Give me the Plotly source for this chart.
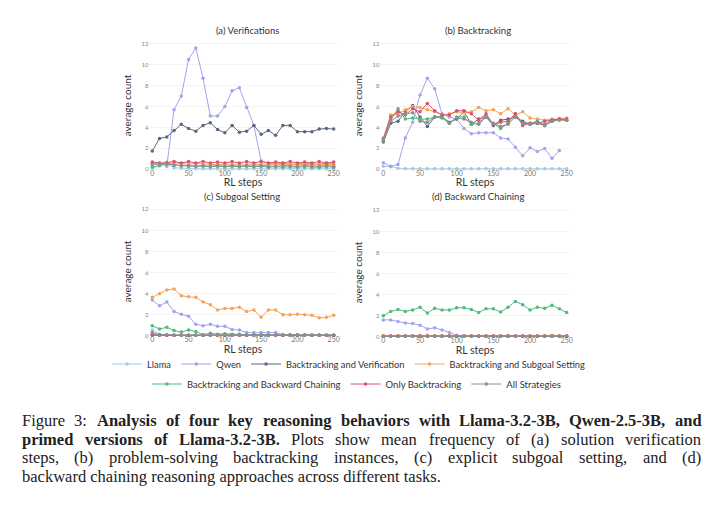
import plotly.graph_objects as go

# ---------------- data ----------------
steps = [0, 10, 20, 30, 40, 50, 60, 70, 80, 90, 100, 110, 120, 130, 140, 150,
         160, 170, 180, 190, 200, 210, 220, 230, 240, 250]

series_names = ["Llama", "Qwen", "Backtracking and Verification",
                "Backtracking and Subgoal Setting", "Backtracking and Backward Chaining",
                "Only Backtracking", "All Strategies"]

# (a) Verifications
llama_a = [0.15, 0.3, 0.5, 0.15, 0.1, 0.1, 0.05, 0.05, 0.05, 0.05, 0.05, 0.05, 0.05,
           0.05, 0.05, 0.05, 0.05, 0.05, 0.05, 0.05, 0.05, 0.05, 0.05, 0.05, 0.05, 0.05]
qwen_a = [0.5, 0.6, 0.3, 5.7, 7.0, 10.5, 11.6, 8.7, 5.1, 5.1, 6.0, 7.5, 7.8, 5.9, 4.2,
          0.8, 0.6, 0.5, 0.6, 0.5, 0.5, 0.6, 0.5, 0.5, 0.6, 0.5]
btv_a = [1.75, 2.95, 3.1, 3.7, 4.3, 3.9, 3.65, 4.2, 4.45, 3.8, 3.5, 4.2, 3.55, 3.65, 4.2,
         3.35, 3.7, 3.25, 4.2, 4.2, 3.6, 3.6, 3.6, 3.85, 3.9, 3.85]
bts_a = [0.5, 0.5, 0.55, 0.6, 0.55, 0.5, 0.55, 0.5, 0.5, 0.45, 0.5, 0.5, 0.45, 0.5, 0.45,
         0.5, 0.45, 0.5, 0.45, 0.5, 0.45, 0.5, 0.45, 0.45, 0.5, 0.45]
bbc_a = [0.2, 0.4, 0.6, 0.4, 0.35, 0.3, 0.3, 0.3, 0.25, 0.3, 0.25, 0.3, 0.25, 0.3, 0.25,
         0.3, 0.2, 0.25, 0.2, 0.25, 0.2, 0.25, 0.2, 0.2, 0.25, 0.2]
ob_a = [0.7, 0.6, 0.65, 0.75, 0.6, 0.75, 0.6, 0.75, 0.6, 0.7, 0.6, 0.75, 0.6, 0.75, 0.6,
        0.75, 0.6, 0.7, 0.6, 0.75, 0.6, 0.7, 0.6, 0.75, 0.6, 0.7]
as_a = [0.45, 0.55, 0.5, 0.4, 0.35, 0.35, 0.3, 0.35, 0.3, 0.35, 0.3, 0.35, 0.3, 0.35, 0.3,
        0.35, 0.3, 0.3, 0.35, 0.3, 0.3, 0.35, 0.3, 0.3, 0.35, 0.3]

# (b) Backtracking
llama_b = [0.3, 0.25, 0.1, 0.05, 0.05, 0.05, 0.05, 0.05, 0.05, 0.05, 0.05, 0.05, 0.05,
           0.05, 0.05, 0.05, 0.05, 0.05, 0.05, 0.05, 0.05, 0.05, 0.05, 0.05, 0.05, 0.05]
qwen_b = [0.63, 0.3, 0.45, 3.0, 4.5, 7.1, 8.7, 7.7, 5.3, 5.0, 4.8, 3.9, 3.4, 3.5, 3.5,
          3.5, 3.0, 2.9, 2.1, 1.3, 2.05, 1.7, 2.0, 1.05, 1.8, None]
btv_b = [2.6, 4.4, 4.6, 5.5, 6.1, 5.0, 4.1, 5.0, 5.0, 4.5, 4.8, 5.5, 4.3, 4.8, 5.0, 4.2,
         4.7, 4.8, 5.0, 4.6, 4.3, 4.4, 4.2, 4.6, 4.8, 4.7]
bts_b = [3.0, 5.2, 5.3, 5.7, 6.0, 5.9, 5.7, 5.5, 5.2, 5.3, 5.5, 5.4, 5.5, 5.9, 5.6, 5.7,
         5.3, 5.8, 5.2, 5.5, 4.9, 4.8, 4.7, 4.8, 4.8, 4.9]
bbc_b = [2.7, 4.7, 5.8, 4.8, 4.9, 4.8, 4.8, 5.0, 5.1, 4.4, 5.0, 5.0, 4.3, 4.4, 5.1, 4.4,
         3.9, 4.4, 5.3, 4.4, 4.4, 4.6, 4.3, 4.7, 4.8, 4.7]
ob_b = [2.9, 5.0, 5.5, 5.2, 5.8, 5.5, 6.3, 5.6, 5.2, 5.2, 5.6, 5.6, 5.3, 4.7, 5.3, 4.3,
        4.5, 4.6, 5.3, 4.2, 4.4, 4.4, 4.6, 4.7, 4.8, 4.8]
as_b = [2.8, 4.6, 5.1, 5.3, 5.4, 4.6, 4.5, 5.0, 4.9, 4.4, 4.9, 4.8, 4.5, 4.3, 5.0, 4.4,
        4.1, 4.3, 5.0, 4.4, 4.3, 4.5, 4.2, 4.6, 4.7, 4.7]

# (c) Subgoal Setting
llama_c = [0.55, 0.15, 0.05, 0.05, 0.05, 0.05, 0.05, 0.05, 0.05, 0.05, 0.05, 0.05, 0.05,
           0.05, 0.05, 0.05, 0.05, 0.05, 0.05, 0.05, 0.05, 0.05, 0.05, 0.05, 0.05, 0.05]
qwen_c = [3.4, 2.85, 3.2, 2.3, 2.05, 1.85, 1.1, 0.95, 1.1, 0.9, 0.9, 0.6, 0.55, 0.3, 0.3,
          0.3, 0.3, 0.3, 0.1, 0.1, 0.1, 0.1, 0.05, 0.05, 0.05, 0.05]
btv_c = [0.1, 0.05, 0.05, 0.05, 0.05, 0.05, 0.05, 0.05, 0.05, 0.05, 0.05, 0.05, 0.05,
         0.05, 0.05, 0.05, 0.05, 0.05, 0.05, 0.05, 0.05, 0.05, 0.05, 0.05, 0.05, 0.05]
bts_c = [3.65, 4.0, 4.35, 4.45, 3.8, 3.7, 3.65, 3.2, 2.95, 2.45, 2.6, 2.6, 2.7, 2.3, 2.45,
         1.75, 2.45, 2.45, 2.0, 2.0, 2.05, 2.0, 1.95, 1.7, 1.75, 1.95]
bbc_c = [0.95, 0.65, 0.8, 0.5, 0.35, 0.55, 0.4, 0.1, 0.25, 0.15, 0.2, 0.15, 0.15, 0.1,
         0.1, 0.1, 0.05, 0.05, 0.05, 0.05, 0.05, 0.05, 0.05, 0.05, 0.05, 0.05]
ob_c = [0.05, 0.05, 0.05, 0.05, 0.05, 0.05, 0.05, 0.05, 0.05, 0.05, 0.05, 0.05, 0.05,
        0.05, 0.05, 0.05, 0.05, 0.05, 0.05, 0.05, 0.05, 0.05, 0.05, 0.05, 0.05, 0.05]
as_c = [0.3, 0.1, 0.1, 0.05, 0.05, 0.05, 0.05, 0.05, 0.05, 0.05, 0.05, 0.05, 0.05,
        0.05, 0.05, 0.05, 0.05, 0.05, 0.1, 0.05, 0.1, 0.05, 0.05, 0.05, 0.05, 0.05]

# (d) Backward Chaining
llama_d = [0.05] * 26
qwen_d = [1.6, 1.6, 1.45, 1.3, 1.25, 1.1, 0.75, 0.85, 0.65, 0.4, 0.15, 0.1, 0.1, 0.05,
          0.05, 0.05, 0.05, 0.05, 0.05, 0.05, 0.05, 0.05, 0.05, 0.05, 0.05, 0.05]
btv_d = [0.05] * 26
bts_d = [0.1, 0.1, 0.1, 0.1, 0.1, 0.15, 0.15, 0.1, 0.1, 0.1, 0.1, 0.1, 0.1, 0.1, 0.1,
         0.1, 0.1, 0.15, 0.1, 0.1, 0.1, 0.1, 0.1, 0.15, 0.1, 0.1]
bbc_d = [2.0, 2.4, 2.6, 2.4, 2.55, 2.8, 2.25, 2.7, 2.55, 2.55, 2.75, 2.75, 2.6, 2.3, 2.65,
         2.65, 2.35, 2.8, 3.35, 3.05, 2.55, 2.8, 2.7, 3.0, 2.65, 2.3]
ob_d = [0.08] * 26
as_d = [0.05] * 26

panels = [
    ("(a) Verifications", [llama_a, qwen_a, btv_a, bts_a, bbc_a, ob_a, as_a]),
    ("(b) Backtracking", [llama_b, qwen_b, btv_b, bts_b, bbc_b, ob_b, as_b]),
    ("(c) Subgoal Setting", [llama_c, qwen_c, btv_c, bts_c, bbc_c, ob_c, as_c]),
    ("(d) Backward Chaining", [llama_d, qwen_d, btv_d, bts_d, bbc_d, ob_d, as_d]),
]

x_ticks = [0, 50, 100, 150, 200, 250]
y_ticks = [0, 2, 4, 6, 8, 10, 12]

# caption: (text, bold) segments per line
caption_lines = [
    [("Figure 3:", False),
     ("Analysis of four key reasoning behaviors with Llama-3.2-3B, Qwen-2.5-3B, and", True)],
    [("primed versions of Llama-3.2-3B.", True),
     ("Plots show mean frequency of (a) solution verification", False)],
    [("steps, (b) problem-solving backtracking instances, (c) explicit subgoal setting, and (d)", False)],
    [("backward chaining reasoning approaches across different tasks.", False)],
]

# ---------------- style ----------------
colors = ["#9ecbe6", "#a3a3ee", "#5c6782", "#f4a35a", "#4dbb7c", "#e0506c", "#8e8e8e"]
W, H = 720, 511
FONT = "Lato"
SERIF = "Liberation Serif"

x_domains = [(150.0, 338.0), (382.0, 572.0), (150.0, 338.0), (382.0, 572.0)]
y_domains = [(37.5, 173.5), (37.5, 173.5), (203.0, 340.0), (204.0, 341.0)]
title_pos = [(249, 30), (480, 30), (243, 196), (480, 196)]

# Times-compatible advance widths (1/1000 em) used to justify the caption lines
REG = dict(zip("abcdefghijklmnopqrstuvwxyz",
               [444, 500, 444, 500, 444, 333, 500, 500, 278, 278, 500, 278, 778, 500, 500,
                500, 500, 333, 389, 278, 500, 500, 722, 500, 500, 444]))
REG.update({"F": 556, "P": 556, "L": 611, "Q": 722, "B": 667, "A": 722,
            ",": 250, ".": 250, ":": 278, "-": 333, "(": 333, ")": 333})
BOLD = dict(zip("abcdefghijklmnopqrstuvwxyz",
                [500, 556, 444, 556, 444, 333, 500, 556, 278, 333, 556, 278, 833, 556, 500,
                 556, 556, 444, 389, 333, 556, 500, 722, 500, 500, 444]))
BOLD.update({"F": 611, "P": 611, "L": 667, "Q": 778, "B": 667, "A": 722,
             ",": 250, ".": 250, ":": 333, "-": 333, "(": 333, ")": 333})


def word_width(word, bold, size):
    table = BOLD if bold else REG
    return sum(table.get(ch, 500) for ch in word) * size / 1000.0


fig = go.Figure()

for i, (title, data) in enumerate(panels):
    ax = "" if i == 0 else str(i + 1)
    for j, (name, vals) in enumerate(zip(series_names, data)):
        fig.add_trace(go.Scatter(
            x=steps, y=vals, name=name, mode="lines+markers",
            line=dict(color=colors[j], width=1),
            marker=dict(color=colors[j], size=3.5),
            xaxis="x" + ax, yaxis="y" + ax,
            showlegend=(i == 0),
            legend="legend" if j < 4 else "legend2",
            connectgaps=False, cliponaxis=False,
        ))
    x0, x1 = x_domains[i]
    yt, yb = y_domains[i]
    fig.layout["xaxis" + ax] = dict(
        domain=[x0 / W, x1 / W], anchor="y" + ax, range=[-4, 254],
        tickvals=x_ticks, tickfont=dict(size=7, color="#777", family=FONT),
        ticklabelstandoff=-6,
        showgrid=False, zeroline=False, showline=False, ticks="",
        title=dict(text="RL steps", font=dict(size=10.5, color="#333", family=FONT), standoff=1),
    )
    fig.layout["yaxis" + ax] = dict(
        domain=[1 - yb / H, 1 - yt / H], anchor="x" + ax, range=[-0.4, 12.6],
        tickvals=y_ticks, tickfont=dict(size=6, color="#888", family=FONT),
        showgrid=True, gridcolor="#f4f4f4", gridwidth=1, zeroline=False, showline=False,
        ticks="",
        title=dict(text="average count", font=dict(size=10, color="#333", family=FONT), standoff=7),
    )
    tx, ty = title_pos[i]
    fig.add_annotation(text=title, x=tx / W, y=1 - ty / H, xref="paper", yref="paper",
                       xanchor="center", yanchor="middle", showarrow=False,
                       font=dict(size=9.5, color="#333", family=FONT))

# caption, justified on the first three lines
CAP_SIZE = 16.5
CAP_LEFT, CAP_RIGHT = 21.0, 703.0
cap_y = [420.5, 439.0, 457.5, 476.0]
for li, (segments, cy) in enumerate(zip(caption_lines, cap_y)):
    words = []
    for text, bold in segments:
        words += [(w, bold) for w in text.split(" ")]
    justify = li < len(caption_lines) - 1
    if justify:
        widths = [word_width(w, b, CAP_SIZE) for w, b in words]
        gap = (CAP_RIGHT - CAP_LEFT - sum(widths)) / (len(words) - 1)
        xpos = CAP_LEFT
        for (w, b), wd in zip(words, widths):
            fig.add_annotation(text=f"<b>{w}</b>" if b else w, x=xpos / W, y=1 - cy / H,
                               xref="paper", yref="paper", xanchor="left", yanchor="middle",
                               showarrow=False, borderpad=0,
                               font=dict(size=CAP_SIZE, color="#222", family=SERIF))
            xpos += wd + gap
    else:
        txt = " ".join(f"<b>{w}</b>" if b else w for w, b in words)
        fig.add_annotation(text=txt, x=CAP_LEFT / W, y=1 - cy / H, xref="paper", yref="paper",
                           xanchor="left", yanchor="middle", showarrow=False, borderpad=0,
                           font=dict(size=CAP_SIZE, color="#222", family=SERIF))

fig.update_layout(
    width=W, height=H, margin=dict(l=0, r=0, t=0, b=0),
    paper_bgcolor="white", plot_bgcolor="white",
    font=dict(family=FONT),
    legend=dict(orientation="h", x=350 / W, y=1 - 364 / H, xanchor="center", yanchor="middle",
                font=dict(size=9.3, color="#333", family=FONT), bgcolor="rgba(0,0,0,0)"),
    legend2=dict(orientation="h", x=358 / W, y=1 - 384 / H, xanchor="center", yanchor="middle",
                 font=dict(size=9.5, color="#333", family=FONT), bgcolor="rgba(0,0,0,0)"),
)

fig.write_html("out.html", config={"displayModeBar": False},
               post_script="document.body.style.margin='0px';")
